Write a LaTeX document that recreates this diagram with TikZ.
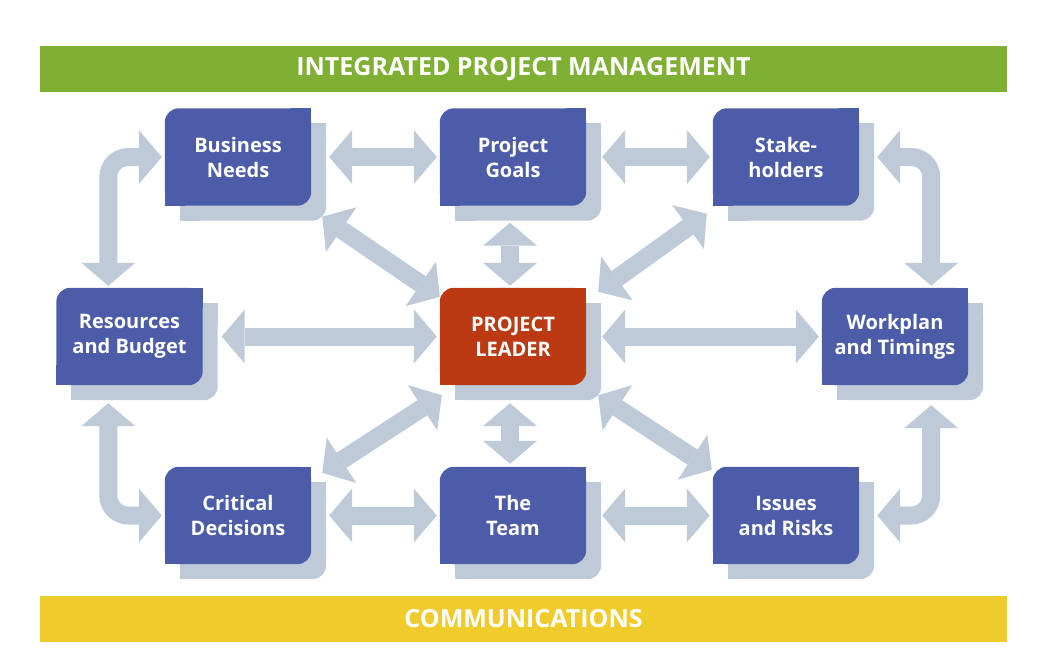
\documentclass[tikz,border=0pt]{standalone}
\usepackage{fontspec}
\setmainfont{Open Sans}
\usetikzlibrary{arrows.meta}
\definecolor{boxblue}{RGB}{76,92,168}
\definecolor{leaderred}{RGB}{187,58,20}
\definecolor{shadowc}{RGB}{190,202,216}
\definecolor{greenc}{RGB}{127,176,52}
\definecolor{yellowc}{RGB}{240,203,44}
\pgfdeclarelayer{shadows}
\pgfdeclarelayer{conns}
\pgfdeclarelayer{boxes}
\pgfsetlayers{shadows,conns,boxes,main}
\tikzset{
  box/.style={minimum width=146pt, minimum height=97pt, inner sep=0pt, text=white,
    align=center, font=\fontsize{20}{25}\selectfont\bfseries},
  banner/.style={minimum width=967pt, minimum height=46pt, inner sep=0pt, text=white,
    font=\fontsize{25}{30}\selectfont\bfseries},
  conn/.style={draw=shadowc, line width=18pt,
    >={Triangle[length=23pt 0 0, width=54pt 0 0, line width=0pt 0 0]}, <->},
  corner/.style={conn, rounded corners=20pt}
}
\begin{document}
\begin{tikzpicture}[x=1pt,y=-1pt]
\useasboundingbox (0,0) rectangle (1056,665);
\node[banner, fill=greenc] (ipm) at (523.5,69) {INTEGRATED PROJECT MANAGEMENT};
\node[banner, fill=yellowc] (com) at (523.5,619) {COMMUNICATIONS};

\node[box] (bn) at (238,157) {Business\\Needs};
\node[box] (pg) at (513,157) {Project\\Goals};
\node[box] (sh) at (786,157) {Stake-\\holders};
\node[box] (rb) at (129.5,336.5) {Resources\\and Budget};
\node[box] (pl) at (513,336.5) {PROJECT\\LEADER};
\node[box] (wp) at (895,336.5) {Workplan\\and Timings};
\node[box] (cd) at (238,515.5) {Critical\\Decisions};
\node[box] (tm) at (513,515.5) {The\\Team};
\node[box] (ir) at (786,515.5) {Issues\\and Risks};

\foreach \n/\c in {bn/boxblue,pg/boxblue,sh/boxblue,rb/boxblue,pl/leaderred,wp/boxblue,cd/boxblue,tm/boxblue,ir/boxblue}{
  \begin{pgfonlayer}{shadows}
    \fill[shadowc, rounded corners=14pt] ([shift={(15,15)}]\n.north west) rectangle ([shift={(15,15)}]\n.south east);
    \fill[shadowc] ([shift={(15,15)}]\n.north east) rectangle ++(-20,20);
    \fill[shadowc] ([shift={(15,15)}]\n.south west) rectangle ++(20,-20);
  \end{pgfonlayer}
  \begin{pgfonlayer}{boxes}
    \fill[\c, rounded corners=14pt] (\n.north west) rectangle (\n.south east);
    \fill[\c] (\n.north east) rectangle ++(-20,20);
    \fill[\c] (\n.south west) rectangle ++(20,-20);
  \end{pgfonlayer}
}

\begin{pgfonlayer}{conns}
  % corner connectors
  \draw[corner] ([shift={(52,-2)}]rb.north west) |- ([xshift=-3]bn.west);
  \draw[corner] ([shift={(52,18)}]rb.south west) |- ([xshift=-3]cd.west);
  \draw[corner] ([xshift=18]sh.east) -| ([shift={(-37,-2)}]wp.north east);
  \draw[corner] ([xshift=18]ir.east) -| ([shift={(-37,20)}]wp.south east);
  % horizontal
  \draw[conn] ([xshift=18]bn.east) -- ([xshift=-3]pg.west);
  \draw[conn] ([xshift=16]pg.east) -- ([xshift=-3]sh.west);
  \draw[conn] ([xshift=19]rb.east) -- ([xshift=-3]pl.west);
  \draw[conn] ([xshift=16]pl.east) -- ([xshift=-3]wp.west);
  \draw[conn] ([xshift=18]cd.east) -- ([xshift=-3]tm.west);
  \draw[conn] ([xshift=16]tm.east) -- ([xshift=-3]ir.west);
  % vertical
  \draw[conn] ([shift={(-3,17)}]pg.south) -- ([shift={(-3,-2)}]pl.north);
  \draw[conn] ([shift={(-3,18)}]pl.south) -- ([shift={(-3,-3)}]tm.north);
  % diagonal
  \draw[conn] ([shift={(11,11)}]bn.south east) -- ([shift={(0,9)}]pl.north west);
  \draw[conn] ([shift={(12,4)}]pl.north east) -- ([shift={(-6,8)}]sh.south west);
  \draw[conn] ([shift={(2,10)}]pl.south west) -- ([shift={(11,6)}]cd.north east);
  \draw[conn] ([shift={(12,10)}]pl.south east) -- ([shift={(-1,3)}]ir.north west);
\end{pgfonlayer}
\end{tikzpicture}
\end{document}
